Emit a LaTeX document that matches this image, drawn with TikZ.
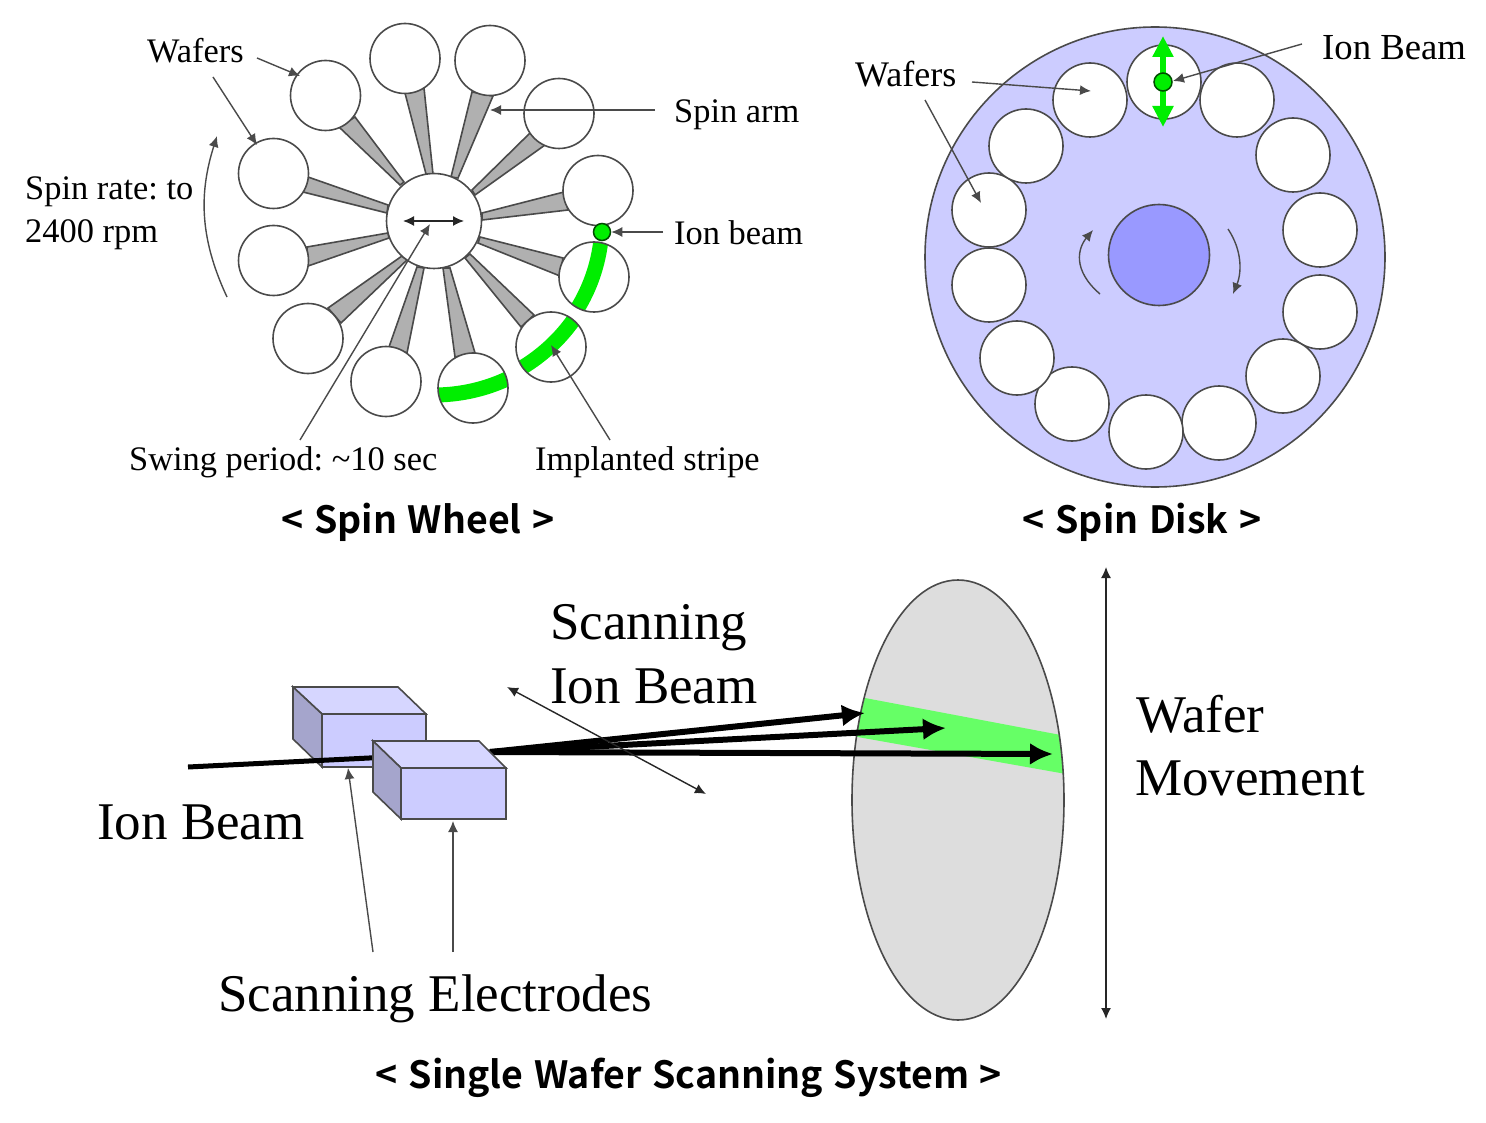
\documentclass[tikz,border=0pt]{standalone}
\usepackage{fontspec}
\setmainfont{Liberation Serif}
\newfontfamily\capfont[BoldFont={Noto Sans CJK KR Bold},WordSpace=1.25]{Noto Sans CJK KR}
\usetikzlibrary{arrows.meta,shapes.geometric}
\definecolor{edgec}{HTML}{4A4A4A}
\definecolor{armc}{HTML}{B0B0B0}
\definecolor{diskc}{HTML}{CCCCFF}
\definecolor{hubc}{HTML}{9999FF}
\definecolor{stripec}{HTML}{00EE00}
\definecolor{bandc}{HTML}{66FF66}
\definecolor{waferg}{HTML}{DDDDDD}
\definecolor{boxtop}{HTML}{D6D6FF}
\definecolor{boxside}{HTML}{A5A5CC}
\tikzset{
  outline/.style={draw=edgec,line width=1.6pt},
  wafersm/.style={circle,outline,fill=white,minimum size=70pt,inner sep=0pt},
  waferbg/.style={circle,outline,fill=white,minimum size=74pt,inner sep=0pt},
  arm/.style={outline,fill=armc},
  conn/.style={draw=edgec,line width=1.4pt,-{Latex[length=11pt,width=10pt]}},
  conntwo/.style={draw=black!85,line width=1.4pt,{Latex[length=11pt,width=10pt]}-{Latex[length=11pt,width=10pt]}},
  thick beam/.style={draw=black,line width=6pt,-{Latex[length=23pt,width=22pt]}},
  beam dot/.style={circle,fill=stripec,draw=black!70!green,line width=1.5pt,minimum size=17pt,inner sep=0pt},
  lab/.style={anchor=base west,inner sep=0pt,font=\fontsize{34.4}{36}\selectfont\frenchspacing,text=black},
  labb/.style={lab,font=\fontsize{36.7}{40}\selectfont},
  labc/.style={lab,font=\fontsize{53}{58}\selectfont},
  captxt/.style={anchor=base,inner sep=0pt,font=\capfont\bfseries\fontsize{37.5}{40}\selectfont},
  stripe/.style={draw=stripec,line width=15pt},
  boxf/.style={outline,fill=diskc},
  boxt/.style={outline,fill=boxtop},
  boxs/.style={outline,fill=boxside},
}
\begin{document}
\begin{tikzpicture}[x=1pt,y=-1pt]
\useasboundingbox (0,0) rectangle (1486,1123);
\fill[white] (0,0) rectangle (1486,1123);

%% ---------- Spin Wheel ----------
\coordinate (hubc) at (434,221);
\foreach \a/\b/\c/\d/\e/\f/\g/\h in {
 405/93/424/88/433/174/426/174,
 472/92/493/96/458/178/451/177,
 530/133/545/145/475/195/472/190,
 564/192/568/210/482/220/482/213,
 563/258/560/276/478/243/480/237,
 534/315/521/327/465/258/470/254,
 475/353/455/357/443/268/450/268,
 407/353/389/347/417/267/424/268,
 328/308/341/323/407/260/402/256,
 307/247/308/266/389/238/388/233,
 308/177/303/192/387/213/388/205,
 355/117/339/127/400/185/404/182}
 \draw[arm] (\a,\b) -- (\c,\d) -- (\e,\f) -- (\g,\h) -- cycle;
\node[wafersm,minimum size=95pt] (hub) at (hubc) {};
\foreach \n/\x/\y in {1/405/58.5,2/490/60.5,3/559/113.5,4/598/190.5,8/386/381.5,9/308/338.5,10/273.5/260.5,11/273.5/173.5,12/325.5/95.5}
  \node[wafersm] (w\n) at (\x,\y) {};
\node[wafersm,path picture={\draw[stripe] (hubc) circle[radius=168pt];}] (w5) at (594,277) {};
\node[wafersm,path picture={\draw[stripe] (hubc) circle[radius=171pt];}] (w6) at (551,347) {};
\node[wafersm,path picture={\draw[stripe] (hubc) circle[radius=174pt];}] (w7) at (473,388) {};
\node[beam dot] (dotw) at (602,232) {};

\node[lab] (twaf) at (147,63) {Wafers};
\node[lab] (tarm) at (674,123) {Spin arm};
\node[lab] (tion) at (674,245) {Ion beam};
\node[lab] (trate) at (25,200) {Spin rate: to};
\node[lab] (trpm) at (25,243) {2400 rpm};
\node[lab] (tswing) at (129,470) {Swing period: \textasciitilde10 sec};
\node[lab] (timp) at (535,470) {Implanted stripe};

\coordinate (a1s) at (257,58);  \coordinate (a1e) at (300,76);
\coordinate (a2s) at (213,77);  \coordinate (a2e) at (257,145);
\coordinate (a3s) at (227,297); \coordinate (a3e) at (217,136);
\coordinate (a4s) at (655,110); \coordinate (a4e) at (490,110);
\coordinate (a5s) at (663,232);
\coordinate (a6l) at (403,221); \coordinate (a6r) at (464,221);
\coordinate (a7s) at (300,440); \coordinate (a7e) at (430,224);
\coordinate (a8s) at (610,440); \coordinate (a8e) at (551,345);
\draw[conn] (a1s) -- (a1e);
\draw[conn] (a2s) -- (a2e);
\draw[conn] (a3s) .. controls (198,235) and (200,190) .. (a3e);
\draw[conn] (a4s) -- (a4e);
\draw[conn] (a5s) -- (dotw);
\draw[conntwo] (a6l) -- (a6r);
\draw[conn] (a7s) -- (a7e);
\draw[conn] (a8s) -- (a8e);
\node[captxt] (cap1) at (418,533) {< Spin Wheel >};

%% ---------- Spin Disk ----------
\node[circle,outline,fill=diskc,minimum size=460pt,inner sep=0pt] (disk) at (1155,257) {};
\node[circle,outline,fill=hubc,minimum size=101pt,inner sep=0pt] (dhub) at (1159,255) {};
\foreach \n/\x/\y in {1/1164/82,2/1237/100,3/1293/155,4/1320/230,5/1320/312,6/1283/376,7/1219/423,8/1146/432,9/1072/404,10/1017/358,11/989/285,12/989/210,13/1026/146,14/1090/100}
  \node[waferbg] (d\n) at (\x,\y) {};
\coordinate (dt) at (1163,36); \coordinate (db) at (1163,127);
\draw[draw=stripec,line width=6pt,{Triangle[length=21pt,width=20pt]}-{Triangle[length=21pt,width=20pt]}] (dt) -- (db);
\node[beam dot,minimum size=18pt] (dotd) at (1163,82) {};
\node[labb] (dion) at (1322,60) {Ion Beam};
\node[lab,font=\fontsize{36}{38}\selectfont] (dwaf) at (855,87) {Wafers};
\coordinate (b1s) at (1302,44); \coordinate (b1e) at (1173,81);
\coordinate (b2s) at (972,82);  \coordinate (b2e) at (1091,91);
\coordinate (b3s) at (925,100); \coordinate (b3e) at (981,203);
\coordinate (b4s) at (1100,294); \coordinate (b4e) at (1093,230);
\coordinate (b5s) at (1228,229); \coordinate (b5e) at (1233,294);
\draw[conn] (b1s) -- (b1e);
\draw[conn] (b2s) -- (b2e);
\draw[conn] (b3s) -- (b3e);
\draw[conn] (b4s) .. controls (1072,270) and (1078,248) .. (b4e);
\draw[conn] (b5s) .. controls (1242,250) and (1242,272) .. (b5e);
\node[captxt] (cap2) at (1142,533) {< Spin Disk >};

%% ---------- Single Wafer Scanning System ----------
\coordinate (g1) at (865,698);
\coordinate (g2) at (1066,736);
\coordinate (g3) at (1066,774);
\coordinate (g4) at (852,736);
\node[ellipse,outline,fill=waferg,minimum width=212pt,minimum height=440pt,inner sep=0pt,
  path picture={\fill[bandc] (g1) -- (g2) -- (g3) -- (g4) -- cycle;}] (wafer) at (958,800) {};
% back box
\draw[boxt] (293,687) -- (398,687) -- (426,714) -- (322,714) -- cycle;
\draw[boxs] (293,687) -- (322,714) -- (322,767) -- (293,739) -- cycle;
\draw[boxf] (322,714) rectangle (426,767);
% beams
\coordinate (bs) at (188,767);
\coordinate (bm) at (490,752);
\coordinate (be1) at (865,713);
\coordinate (be2) at (946,728);
\coordinate (be3) at (1053,754);
\draw[draw=black,line width=5pt] (bs) -- (bm);
\draw[thick beam] (bm) -- (be1);
\draw[thick beam] (bm) -- (be2);
\draw[thick beam] (bm) -- (be3);
% front box
\draw[boxt] (373,741) -- (479,741) -- (506,768) -- (401,768) -- cycle;
\draw[boxs] (373,741) -- (401,768) -- (401,819) -- (373,792) -- cycle;
\draw[boxf] (401,768) rectangle (506,819);

\coordinate (c1) at (507,687); \coordinate (c2) at (706,794);
\coordinate (c3) at (1106,567); \coordinate (c4) at (1106,1019);
\coordinate (c5s) at (373,952); \coordinate (c5e) at (348,768);
\coordinate (c6s) at (453,952); \coordinate (c6e) at (453,821);
\draw[conntwo] (c1) -- (c2);
\draw[conntwo] (c3) -- (c4);
\draw[conn] (c5s) -- (c5e);
\draw[conn] (c6s) -- (c6e);

\node[labc] (t1) at (550,639) {Scanning};
\node[labc] (t2) at (550,703) {Ion Beam};
\node[labc] (t3) at (97,839) {Ion Beam};
\node[labc] (t4) at (218,1011) {Scanning Electrodes};
\node[labc] (t5) at (1136,732) {Wafer};
\node[labc] (t6) at (1135,795) {Movement};
\node[captxt] (cap3) at (689,1088) {< Single Wafer Scanning System >};
\end{tikzpicture}
\end{document}
